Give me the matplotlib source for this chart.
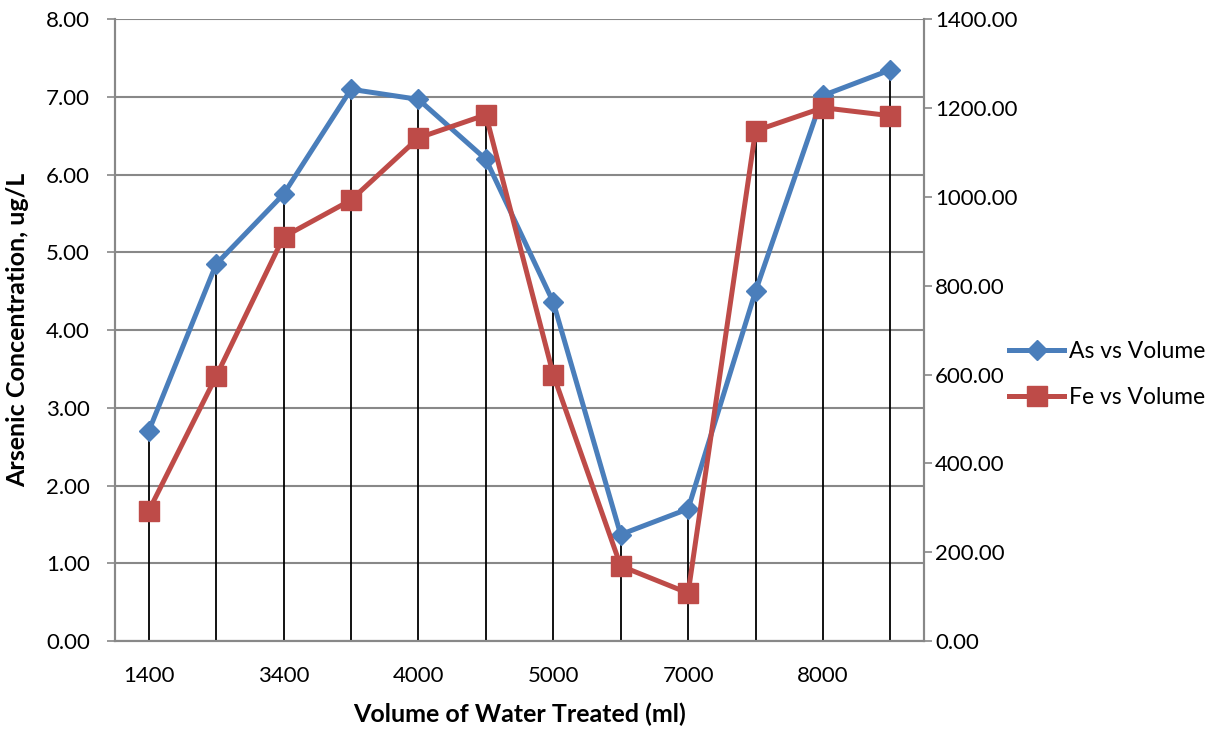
import numpy as np
import matplotlib
matplotlib.use('Agg')
import matplotlib.pyplot as plt

plt.rcParams['font.family'] = ['Lato', 'DejaVu Sans']

# 数据
volume_labels = ['1400', '', '3400', '', '4000', '', '5000', '', '7000', '', '8000', '']
arsenic = [2.70, 4.85, 5.75, 7.10, 6.97, 6.20, 4.36, 1.37, 1.70, 4.50, 7.02, 7.35]
iron = [293, 596, 910, 993, 1133, 1185, 600, 169, 108, 1149, 1201, 1183]
as_ticks = [0, 1, 2, 3, 4, 5, 6, 7, 8]
fe_ticks = [0, 200, 400, 600, 800, 1000, 1200, 1400]

blue = '#4a7ebb'
red = '#be4b48'
grey = '#888888'

x = np.arange(len(arsenic))

fig = plt.figure(figsize=(12.17, 7.30), dpi=100)
ax = fig.add_axes([0.0945, 0.1219, 0.6648, 0.8516])
ax2 = ax.twinx()

ax.set_xlim(-0.5, len(x) - 0.5)
ax.set_ylim(0, 8)
ax2.set_ylim(0, 1400)

# 垂线: 从两条曲线较高点落到横轴(按0~1的相对高度比较)
top = np.maximum(np.array(arsenic) / 8.0, np.array(iron) / 1400.0) * 8.0
ax.vlines(x, 0, top, color='black', lw=1.3, zorder=2)

l1, = ax.plot(x, arsenic, color=blue, lw=3.6, marker='D', ms=10,
              label='As vs Volume', zorder=4)
l2, = ax2.plot(x, iron, color=red, lw=3.6, marker='s', ms=14,
               label='Fe vs Volume', zorder=3)

ax.set_yticks(as_ticks)
ax.set_yticklabels(['%.2f' % v for v in as_ticks])
ax2.set_yticks(fe_ticks)
ax2.set_yticklabels(['%.2f' % v for v in fe_ticks])
ax.set_xticks(x)
ax.set_xticklabels(volume_labels)

ax.grid(axis='y', color=grey, lw=1.5)
ax.set_axisbelow(True)
for a in (ax, ax2):
    for s in a.spines.values():
        s.set_color(grey)
        s.set_linewidth(1.5)
    a.spines['top'].set_visible(False)
    a.tick_params(colors=grey, labelcolor='black', labelsize=16, length=6, width=1.2)
ax.tick_params(axis='x', length=0, pad=18)
ax.tick_params(axis='y', pad=12)
ax2.tick_params(axis='y', pad=2)

ax.set_xlabel('Volume of Water Treated (ml)', fontsize=18, fontweight='bold', labelpad=12)
ax.set_ylabel('Arsenic Concentration, ug/L', fontsize=18, fontweight='bold', labelpad=12)

fig.legend([l1, l2], ['As vs Volume', 'Fe vs Volume'], loc='center left',
           bbox_to_anchor=(0.82, 0.487), frameon=False, fontsize=16.5,
           numpoints=1, handlelength=2.4, handletextpad=0.18, labelspacing=1.1,
           borderpad=0)

fig.savefig('out.png', dpi=100)
